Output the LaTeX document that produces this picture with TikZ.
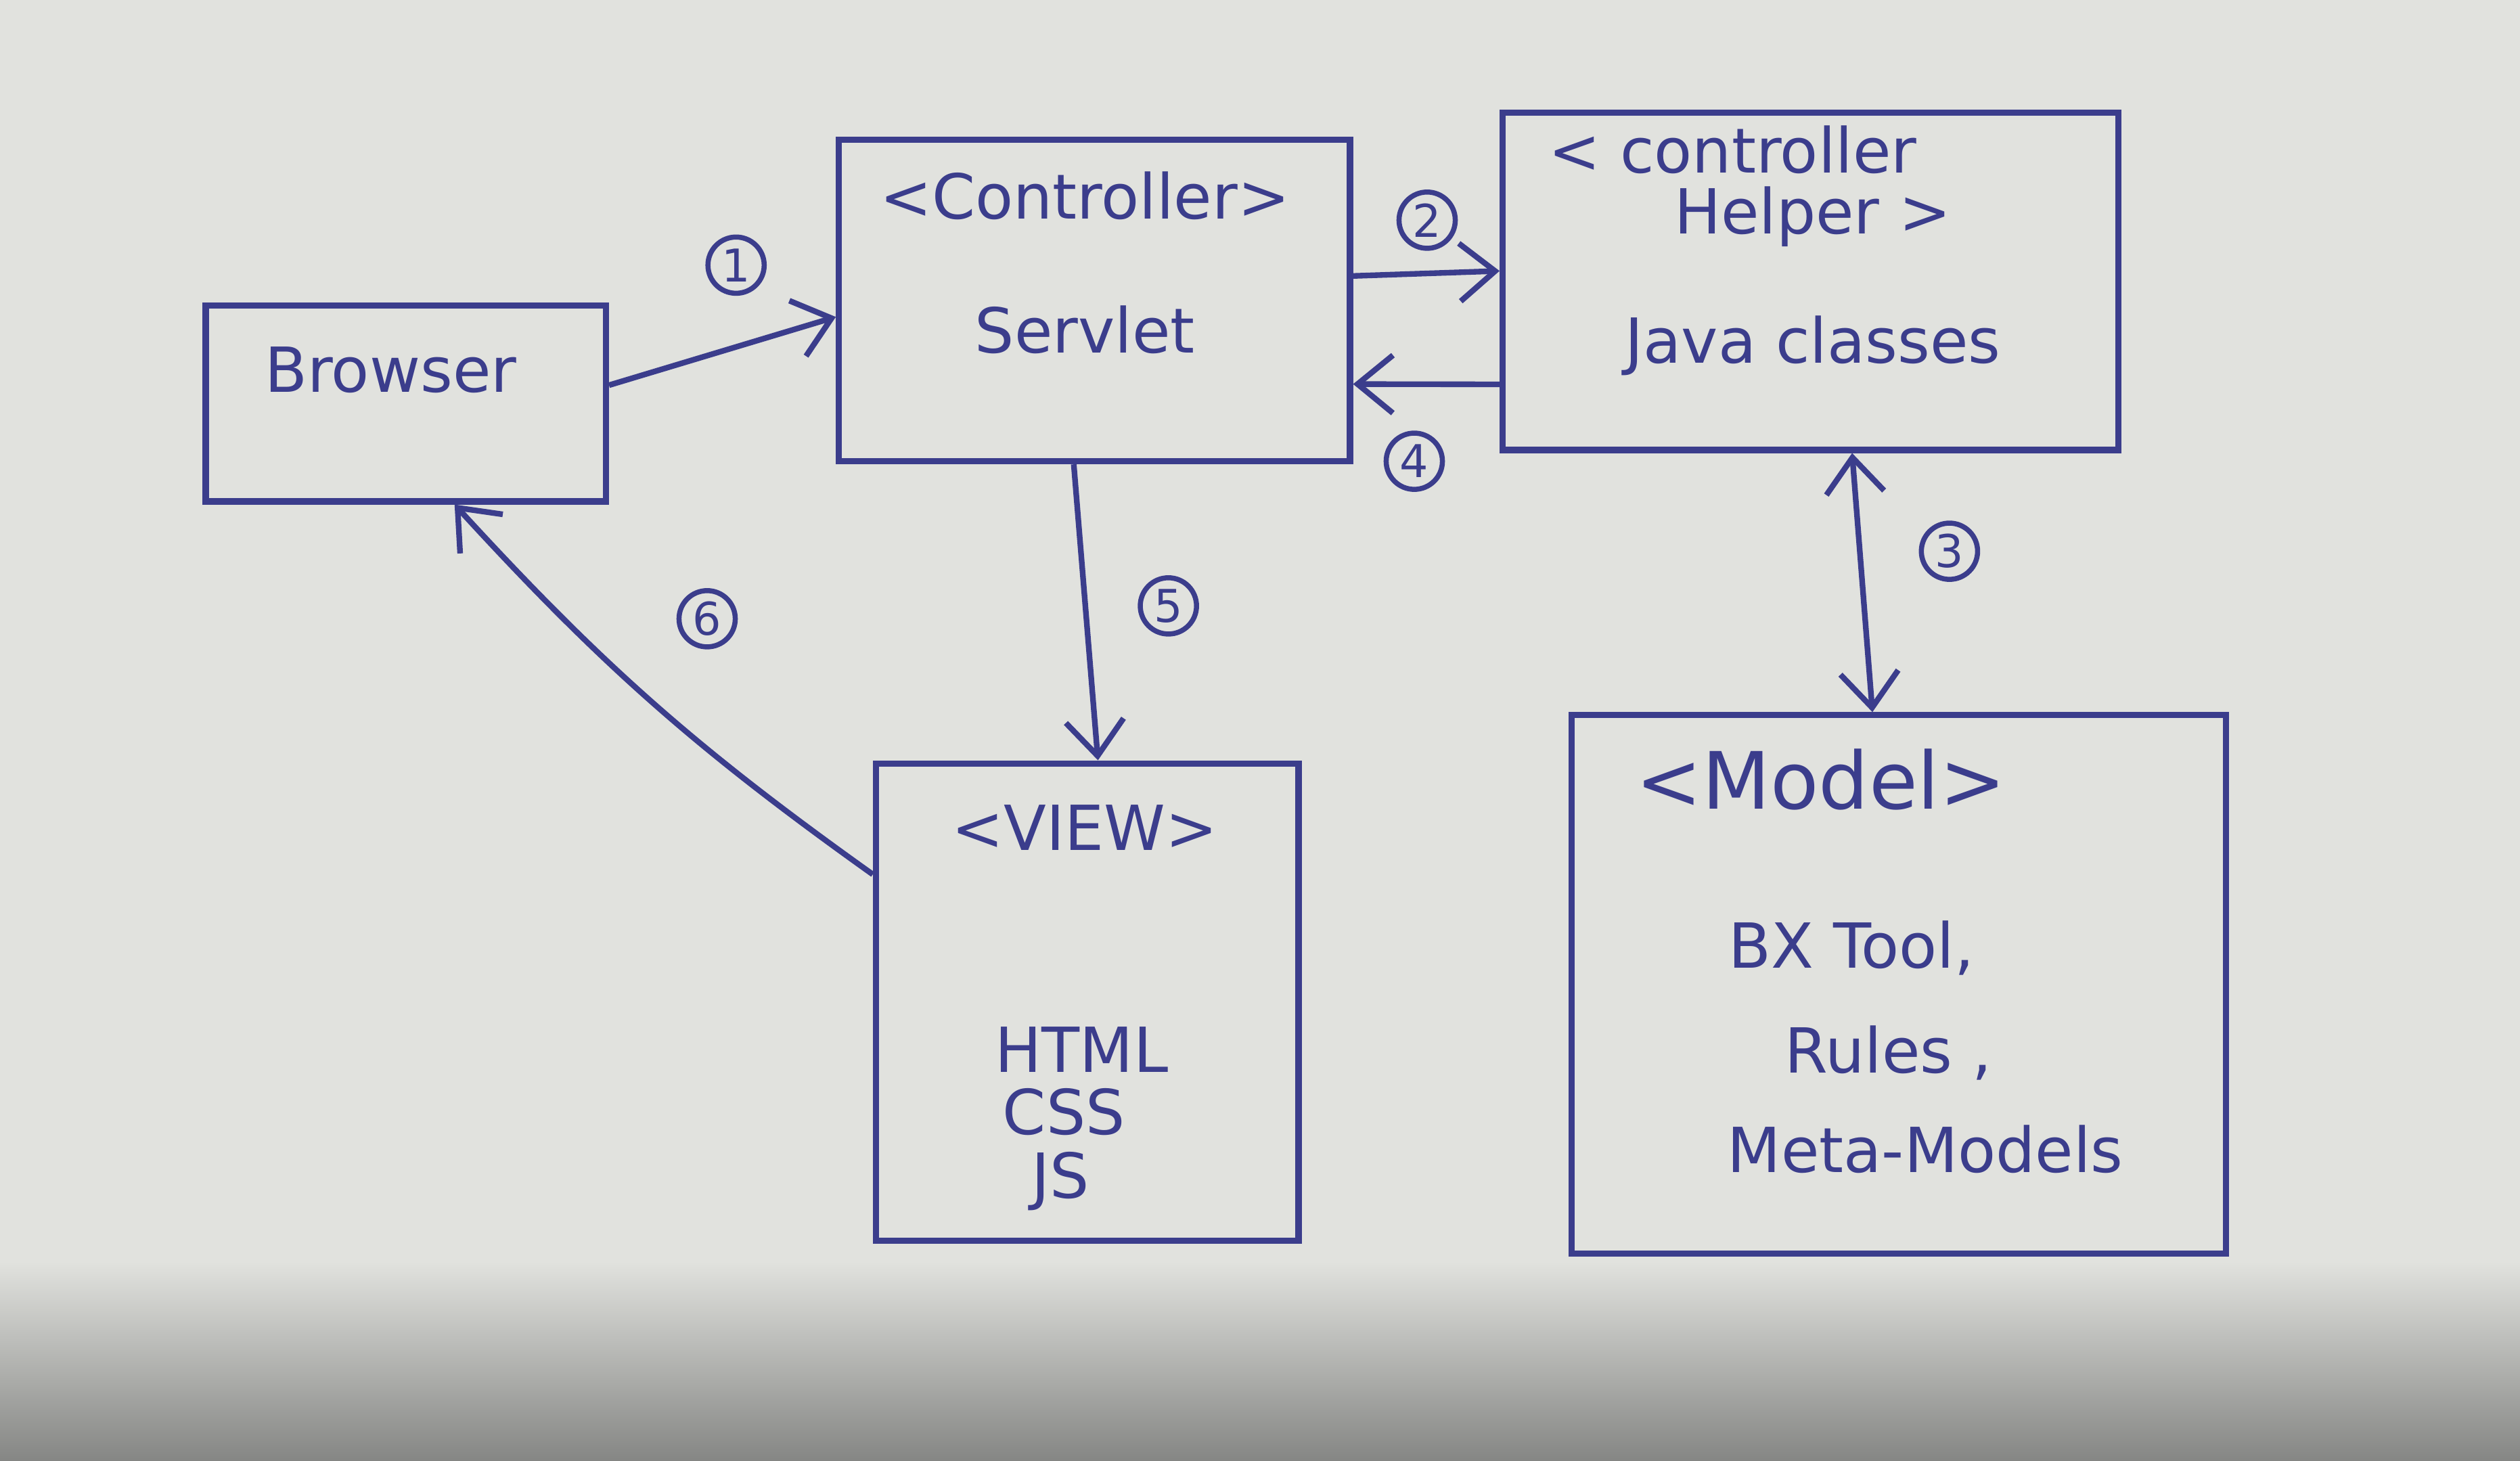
\documentclass[tikz,border=0pt]{standalone}
\usepackage{fontspec}
\setmainfont{DejaVu Sans}
\usetikzlibrary{arrows.meta,fit,calc}
\definecolor{ink}{HTML}{3B3D8C}
\definecolor{paper}{HTML}{E1E2DE}
\definecolor{shadow}{HTML}{858684}
\begin{document}
\begin{tikzpicture}[x=0.1mm,y=-0.1mm,
  box/.style={draw=ink,line width=1.1pt,inner sep=0pt},
  txt/.style={text=ink,font=\fontsize{11}{13}\selectfont,inner sep=1pt},
  bigtxt/.style={text=ink,font=\fontsize{14}{16}\selectfont,inner sep=1pt},
  num/.style={draw=ink,line width=0.9pt,circle,text=ink,font=\fontsize{8}{9}\selectfont,minimum size=3.5mm,inner sep=0pt},
  arr/.style={draw=ink,line width=1pt,-{Straight Barb[length=2.2mm,width=3.6mm]}},
  darr/.style={draw=ink,line width=1pt,{Straight Barb[length=2.2mm,width=3.6mm]}-{Straight Barb[length=2.2mm,width=3.6mm]}}]
\useasboundingbox (0,0) rectangle (1568,909);
\fill[paper] (0,0) rectangle (1568,909);
\shade[top color=paper,bottom color=shadow] (0,785) rectangle (1568,909);

% boxes
\node (browser) [box,fit={(128,190) (377,312)}] {};
\node (servlet) [box,fit={(522,87) (840,287)}] {};
\node (helper) [box,fit={(935,70) (1318,280)}] {};
\node (view) [box,fit={(545,475) (808,772)}] {};
\node (model) [box,fit={(978,445) (1385,780)}] {};

% texts
\node (tbrowser) [txt] at (243,230) {Browser};
\node (tctrl) [txt] at (675,122) {<Controller>};
\node (tservlet) [txt] at (675,205) {Servlet};
\node (thelp1) [txt] at (1078,93) {< controller};
\node (thelp2) [txt] at (1128,135) {Helper >};
\node (tjava) [txt] at (1128,215) {Java classes};
\node (tview) [txt] at (675,515) {<VIEW>};
\node (thtml) [txt] at (673,653) {HTML};
\node (tcss) [txt] at (662,692) {CSS};
\node (tjs) [txt] at (660,735) {JS};
\node (tmodel) [bigtxt] at (1133,485) {<Model>};
\node (tbx) [txt] at (1152,590) {BX Tool,};
\node (trules) [txt] at (1175,655) {Rules ,};
\node (tmeta) [txt] at (1198,715) {Meta-Models};

% connectors
\draw[arr] ($(browser.north east)!0.41!(browser.south east)$) -- ($(servlet.north west)!0.55!(servlet.south west)$);
\draw[arr] ($(servlet.north east)!0.425!(servlet.south east)$) -- ($(helper.north west)!0.47!(helper.south west)$);
\draw[arr] ($(helper.north west)!0.8!(helper.south west)$) -- ($(servlet.north east)!0.755!(servlet.south east)$);
\draw[darr] ($(helper.south west)!0.567!(helper.south east)$) -- ($(model.north west)!0.46!(model.north east)$);
\draw[arr] ($(servlet.south west)!0.46!(servlet.south east)$) -- ($(view.north west)!0.525!(view.north east)$);
\draw[arr] ($(view.north west)!0.236!(view.south west)$) to[bend left=6] ($(browser.south west)!0.62!(browser.south east)$);

% step numbers
\node (n1) [num] at (458,165) {1};
\node (n2) [num] at (888,137) {2};
\node (n3) [num] at (1213,343) {3};
\node (n4) [num] at (880,287) {4};
\node (n5) [num] at (727,377) {5};
\node (n6) [num] at (440,385) {6};
\end{tikzpicture}
\end{document}
